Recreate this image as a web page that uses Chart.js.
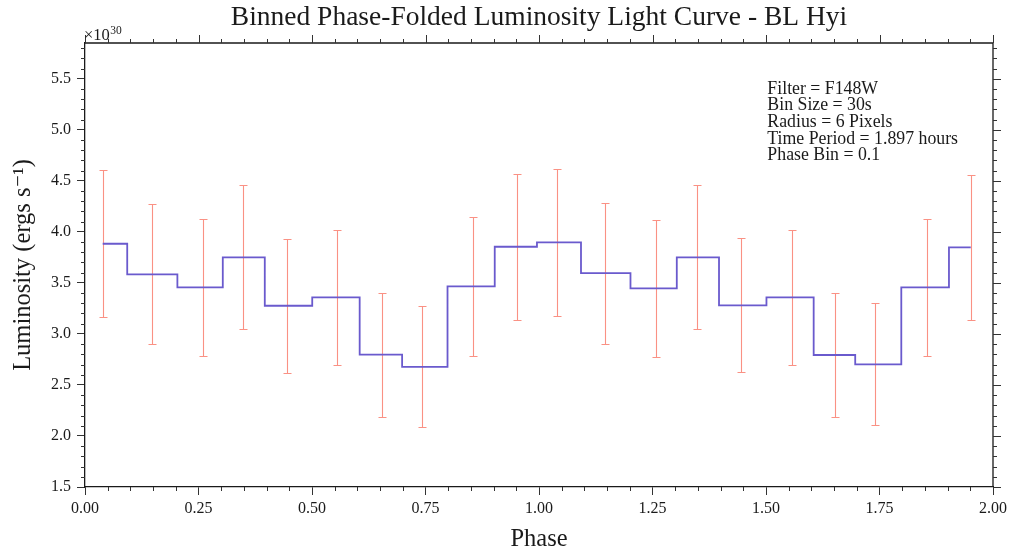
<!DOCTYPE html>
<html>
<head>
<meta charset="utf-8">
<script src="https://cdn.jsdelivr.net/npm/chart.js@4.4.0/dist/chart.umd.min.js"></script>
<style>
  html, body { margin: 0; padding: 0; background: #ffffff; }
  #wrap { width: 1011px; height: 556px; position: relative; }
</style>
</head>
<body>
<div id="wrap"><canvas id="lc"></canvas></div>
<script>
// Binned, phase-folded light curve of BL Hyi (two cycles shown), luminosity in units of 1e30 erg/s
const phase = [0.039, 0.147, 0.260, 0.347, 0.445, 0.556, 0.654, 0.743, 0.854, 0.951,
               1.040, 1.145, 1.258, 1.349, 1.444, 1.558, 1.652, 1.741, 1.855, 1.951];
const luminosity = [3.883, 3.583, 3.455, 3.749, 3.276, 3.357, 2.796, 2.676, 3.465, 3.854,
                    3.896, 3.596, 3.446, 3.749, 3.279, 3.357, 2.793, 2.701, 3.455, 3.847];
const luminosityErr = [0.718, 0.686, 0.675, 0.705, 0.656, 0.664, 0.606, 0.593, 0.678, 0.714,
                       0.719, 0.691, 0.674, 0.705, 0.656, 0.664, 0.606, 0.597, 0.673, 0.713];

const infoLines = ['Filter = F148W', 'Bin Size = 30s', 'Radius = 6 Pixels',
                   'Time Period = 1.897 hours', 'Phase Bin = 0.1'];

const SERIF = '"Liberation Serif", "DejaVu Serif", serif';
const INK = '#1a1a1a';

const points = phase.map((p, i) => ({ x: p, y: luminosity[i] }));

// Symmetric error bars with caps, placed through the chart scales
const errorBars = {
  id: 'errorBars',
  beforeDatasetsDraw(chart) {
    const { ctx, scales: { x, y } } = chart;
    ctx.save();
    ctx.strokeStyle = '#fa9184';
    ctx.lineWidth = 1.1;
    const cap = 4;
    phase.forEach((p, i) => {
      const px = Math.round(x.getPixelForValue(p)) + 0.5;
      const top = Math.round(y.getPixelForValue(luminosity[i] + luminosityErr[i])) + 0.5;
      const bot = Math.round(y.getPixelForValue(luminosity[i] - luminosityErr[i])) + 0.5;
      ctx.beginPath();
      ctx.moveTo(px, top); ctx.lineTo(px, bot);
      ctx.moveTo(px - cap, top); ctx.lineTo(px + cap, top);
      ctx.moveTo(px - cap, bot); ctx.lineTo(px + cap, bot);
      ctx.stroke();
    });
    ctx.restore();
  }
};

// Closed frame: top/right spines, minor ticks, mirrored ticks, offset label and info text
const frame = {
  id: 'frame',
  afterDraw(chart) {
    const { ctx, chartArea: a, scales: { x, y } } = chart;
    ctx.save();
    ctx.strokeStyle = INK;
    ctx.lineWidth = 1.3;
    ctx.beginPath();
    ctx.moveTo(a.left, a.top); ctx.lineTo(a.right, a.top); ctx.lineTo(a.right, a.bottom);
    ctx.stroke();

    ctx.lineWidth = 1;
    ctx.strokeStyle = '#333';
    const major = 8, minor = 4;
    ctx.beginPath();
    // x ticks: majors every 0.25, minors every 0.05
    for (let k = 0; k <= 40; k++) {
      const v = k * 0.05;
      const px = Math.round(x.getPixelForValue(v)) + 0.5;
      const isMajor = k % 5 === 0;
      const len = isMajor ? major : minor;
      if (!isMajor) { ctx.moveTo(px, a.bottom); ctx.lineTo(px, a.bottom + len); }
      ctx.moveTo(px, a.top); ctx.lineTo(px, a.top - len);
    }
    // y ticks: majors every 0.5, minors every 0.1
    for (let k = 15; k <= 58; k++) {
      const v = k / 10;
      const py = Math.round(y.getPixelForValue(v)) + 0.5;
      const isMajor = k % 5 === 0;
      const len = isMajor ? major : minor;
      if (!isMajor) { ctx.moveTo(a.left, py); ctx.lineTo(a.left - len, py); }
      ctx.moveTo(a.right, py); ctx.lineTo(a.right + len, py);
    }
    ctx.stroke();

    // scale factor for the luminosity axis
    ctx.fillStyle = INK;
    ctx.textBaseline = 'alphabetic';
    ctx.textAlign = 'left';
    ctx.font = '16.5px ' + SERIF;
    ctx.fillText('\u00d710', a.left - 1, a.top - 3);
    const w = ctx.measureText('\u00d710').width;
    ctx.font = '11.5px ' + SERIF;
    ctx.fillText('30', a.left - 1 + w + 0.5, a.top - 9);

    // observation details
    ctx.font = '17.8px ' + SERIF;
    const lx = x.getPixelForValue(1.503);
    infoLines.forEach((t, i) => ctx.fillText(t, lx, 93.5 + i * 16.7));
    ctx.restore();
  }
};

new Chart(document.getElementById('lc'), {
  type: 'scatter',
  data: {
    datasets: [{
      data: points,
      showLine: true,
      stepped: 'middle',
      borderColor: '#6a5acd',
      borderWidth: 1.8,
      pointRadius: 0,
      pointHoverRadius: 0,
      fill: false
    }]
  },
  options: {
    responsive: true,
    maintainAspectRatio: false,
    animation: false,
    events: [],
    layout: { padding: { left: 0, right: 18, top: 0, bottom: 0 } },
    plugins: {
      legend: { display: false },
      tooltip: { enabled: false },
      title: {
        display: true,
        fullSize: false,
        text: 'Binned Phase-Folded Luminosity Light Curve - BL Hyi',
        color: INK,
        font: { family: SERIF, size: 27.5, weight: 'normal' },
        padding: { top: 1, bottom: 9 }
      }
    },
    scales: {
      x: {
        type: 'linear',
        min: 0, max: 2,
        afterFit(s) { s.height = 69; },
        ticks: {
          stepSize: 0.25,
          includeBounds: false,
          padding: 4,
          color: INK,
          font: { family: SERIF, size: 16 },
          callback: v => Number(v).toFixed(2)
        },
        grid: { display: true, drawOnChartArea: false, drawTicks: true, tickLength: 8, color: '#333', lineWidth: 1 },
        border: { display: true, color: INK, width: 1.3 },
        title: {
          display: true,
          text: 'Phase',
          color: INK,
          font: { family: SERIF, size: 24.5 },
          padding: { top: 0, bottom: 1.5 }
        }
      },
      y: {
        type: 'linear',
        min: 1.5, max: 5.85,
        afterFit(s) { s.width = 85; },
        ticks: {
          stepSize: 0.5,
          includeBounds: false,
          padding: 6,
          color: INK,
          font: { family: SERIF, size: 16 },
          callback: v => Number(v).toFixed(1)
        },
        grid: { display: true, drawOnChartArea: false, drawTicks: true, tickLength: 8, color: '#333', lineWidth: 1 },
        border: { display: true, color: INK, width: 1.3 },
        title: {
          display: true,
          text: 'Luminosity (ergs s\u207b\u00b9)',
          color: INK,
          font: { family: SERIF, size: 24.5 },
          padding: { top: 8.5, bottom: 0 }
        }
      }
    }
  },
  plugins: [errorBars, frame]
});
</script>
</body>
</html>
